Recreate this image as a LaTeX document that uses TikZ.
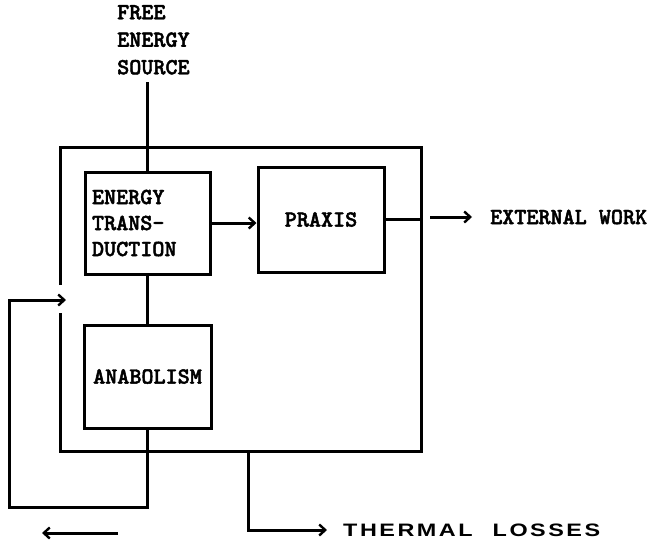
\documentclass[tikz,border=0pt]{standalone}
\usepackage{fontspec}
\usepackage{tikz}
\usetikzlibrary{arrows.meta,positioning}
\newfontfamily\boxfont[Extension=.otf,FakeBold=2]{lmmonolt10-bold}
\newfontfamily\widefont[FakeStretch=1.3,LetterSpace=14]{Liberation Sans}

\begin{document}
\begin{tikzpicture}[x=1pt,y=-1pt,
  wire/.style={draw=black,line width=3pt},
  flow/.style={wire,-{Straight Barb[length=6pt,width=11pt,line width=2.4pt]}},
  block/.style={draw=black,line width=3pt,inner sep=7pt},
  label/.style={font=\fontsize{23}{26}\selectfont\boxfont,inner sep=0pt}
]
 \path[use as bounding box] (0,0) rectangle (652,544);

 % the system boundary, open on the left where the loop comes back in
 \coordinate (gapTop) at (60,285);
 \coordinate (gapBot) at (60,313);
 \coordinate (bndR) at (421,219.5);
 \draw[wire,line join=miter] (gapTop) -- (60,147) -- (421,147) -- (421,451)
   -- (60,451) -- (gapBot);

 % blocks inside the boundary
 \node[block,label,minimum height=102pt,text width=111pt,align=left,
   inner sep=7pt] (trans) at (147.5,223) {ENERGY\\TRANS-\\DUCTION};
 \node[block,label,minimum width=126pt,minimum height=105pt,inner sep=7pt]
   (praxis) at (321,219.5) {PRAXIS};
 \node[block,label,minimum width=127pt,minimum height=103pt,inner sep=7pt]
   (anabol) at (147.5,376.5) {ANABOLISM};

 % outside labels
 \node[label,font=\fontsize{23}{27.5}\selectfont\boxfont,
   align=left,anchor=north west] (source) at (117,5) {FREE\\ENERGY\\SOURCE};
 \node[label,anchor=west] (work) at (490,217) {EXTERNAL WORK};
 \node[font=\fontsize{18}{20}\selectfont\widefont\bfseries,inner sep=0pt,
   anchor=west] (heat) at (343,530) {THERMAL\hspace{20pt}LOSSES};

 % connectors
 \draw[wire] (trans.north |- 0,82) -- (trans.north);
 \draw[wire] (trans.south) -- (anabol.north);
 \draw[flow] (trans.east) -- (praxis.west |- trans.east);
 \draw[wire] (praxis.east) -- (bndR);
 \coordinate (workFrom) at (430,217);
 \draw[flow] (workFrom) -- ++(42,0);

 % feedback loop from anabolism back into the boundary
 \coordinate (loopIn) at (66,300);
 \draw[flow,line join=miter] (anabol.south) -- (anabol.south |- 0,507)
   -- (9,507) -- (9,300) -- (loopIn);

 % heat leaving the boundary
 \coordinate (heatFrom) at (248,451);
 \draw[flow,line join=miter] (heatFrom) -- (248,530) -- ([xshift=-16pt]heat.west);

 % loose arrow at the lower left
 \coordinate (leftFrom) at (118,533);
 \coordinate (leftTo) at (42,533);
 \draw[flow] (leftFrom) -- (leftTo);
\end{tikzpicture}
\end{document}
